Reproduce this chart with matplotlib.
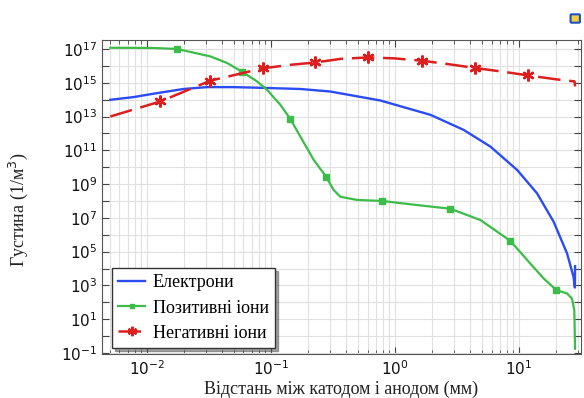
import numpy as np
import matplotlib
matplotlib.use('Agg')
import matplotlib.pyplot as plt
from matplotlib.patches import FancyBboxPatch
from matplotlib.ticker import LogLocator, NullFormatter

# відстань (мм) і log10 густини (1/м^3)
x_e = [0.00506, 0.0078, 0.0113, 0.0197, 0.0305, 0.0499, 0.082, 0.1725, 0.30, 0.76, 1.93, 3.57,
       5.87, 9.64, 13.97, 19.0, 24.4, 27.5, 28.2, 28.3]
y_e = [13.99, 14.15, 14.35, 14.63, 14.74, 14.74, 14.70, 14.63, 14.48, 13.95, 13.1, 12.21,
       11.22, 9.84, 8.45, 6.77, 4.89, 3.5, 2.87, 4.14]

x_p = [0.00506, 0.0110, 0.01746, 0.0324, 0.0442, 0.0584, 0.0771, 0.0929, 0.119, 0.143, 0.1725,
       0.221, 0.278, 0.320, 0.362, 0.494, 0.786, 1.50, 2.79, 4.88, 8.5, 12.3, 15.8, 20.0,
       24.4, 26.7, 27.9, 28.1, 28.3]
y_p = [17.07, 17.06, 17.0, 16.56, 16.17, 15.65, 15.08, 14.58, 13.69, 12.86, 11.81,
       10.43, 9.44, 8.65, 8.25, 8.06, 8.0, 7.76, 7.54, 6.87, 5.64, 4.3, 3.41, 2.72,
       2.52, 2.22, 1.53, 0.34, -0.75]
mark_p = [2, 5, 9, 12, 16, 18, 20, 23]

x_n = [0.00506, 0.0128, 0.0324, 0.0855, 0.143, 0.2275, 0.362, 0.61, 1.0, 1.66, 2.7, 4.45,
       7.3, 11.9, 20.0, 28.0, 28.3]
y_n = [13.0, 13.89, 15.12, 15.85, 16.06, 16.2, 16.41, 16.5, 16.44, 16.3, 16.1, 15.87,
       15.66, 15.43, 15.2, 15.08, 14.78]
mark_n = [1, 2, 3, 5, 7, 9, 11, 13]

yexp = list(range(-1, 18))
ylabels = [r'$10^{%d}$' % k if k % 2 else '' for k in yexp]

labels = ['Електрони', 'Позитивні іони', 'Негативні іони']
c_e, c_p, c_n = '#2b4cf2', '#3cbc48', '#dc1e1e'


def main():
    fig = plt.figure(figsize=(5.84, 3.98), dpi=100)
    ax = fig.add_axes([0.1747, 0.1106, 0.8202, 0.7889])

    ax.plot(x_e, 10.0 ** np.array(y_e), color=c_e, lw=1.7, label=labels[0])
    ax.plot(x_p, 10.0 ** np.array(y_p), color=c_p, lw=1.6, marker='s', ms=4,
            markevery=mark_p, label=labels[1])
    ax.plot(x_n, 10.0 ** np.array(y_n), color=c_n, lw=1.8, dashes=(9, 3.5),
            marker=(6, 2, 0), ms=8.5, mew=1.7, markevery=mark_n, label=labels[2])

    ax.set_xscale('log')
    ax.set_yscale('log')
    ax.set_xlim(0.00434, 31.6)
    ax.set_ylim(10 ** -1.06, 10 ** 17.53)

    ax.set_yticks([10.0 ** k for k in yexp])
    ax.set_yticklabels(ylabels)
    ax.yaxis.set_minor_locator(LogLocator(base=10, subs=[], numticks=40))
    ax.xaxis.set_minor_locator(LogLocator(base=10, subs=np.arange(2, 10), numticks=20))
    ax.xaxis.set_minor_formatter(NullFormatter())

    ax.tick_params(which='both', direction='in', top=True, right=True,
                   color='#444444', labelsize=11, labelcolor='#111111')
    ax.tick_params(which='major', length=5)
    ax.tick_params(which='minor', length=3)
    ax.grid(which='both', color='#e0e0e0', lw=0.8)
    ax.set_axisbelow(True)
    for s in ax.spines.values():
        s.set_color('#555555')

    ax.set_xlabel('Відстань між катодом і анодом (мм)', family='Liberation Serif',
                  fontsize=13, color='#222222', labelpad=2)
    ax.set_ylabel('Густина (1/м$^3$)', family='Liberation Serif', fontsize=13, color='#222222')
    ax.yaxis.set_label_coords(-0.15, 0.46)

    leg = ax.legend(loc='lower left', bbox_to_anchor=(0.021, 0.019), borderaxespad=0,
                    prop={'family': 'Liberation Serif', 'size': 13}, fancybox=False,
                    shadow=True, edgecolor='#333333', framealpha=1, handlelength=1.5,
                    handletextpad=0.4, labelspacing=0.45, borderpad=0.35, markerscale=0.8)
    leg.get_frame().set_linewidth(1.0)

    # маленька піктограма вгорі праворуч
    fig.patches.append(FancyBboxPatch((0.979, 0.945), 0.012, 0.017, boxstyle='round,pad=0.002',
                                      transform=fig.transFigure, fc='#f0d040', ec='#2050c0', lw=1.5))

    fig.savefig('out.png', dpi=100)


if __name__ == "__main__":
    main()
